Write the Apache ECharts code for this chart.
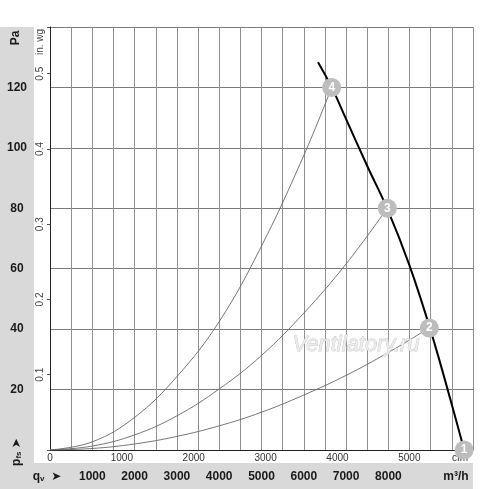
<!DOCTYPE html>
<html>
<head>
<meta charset="utf-8">
<script src="https://cdn.jsdelivr.net/npm/echarts@6/dist/echarts.min.js"></script>
<style>html,body{margin:0;padding:0;background:#fff}#c{width:500px;height:489px}</style>
</head>
<body>
<div id="c"></div>
<script>
// Fan curve (q in m³/h, p in Pa)
const fanCurve = [[6336,128.3],[6660,120],[7000,109.5],[7500,94],[8000,79],[8500,61],[9000,39.5],[9500,15],[9790,0]];
// System curves
const sys4 = [[0,0],[1000,2.7],[2000,10.8],[3000,24.3],[4000,42.5],[5000,67.5],[6000,97.5],[6660,120]];
const sys3 = [[0,0],[1000,1.3],[2000,5],[3000,11.3],[4000,20.2],[5000,31.3],[6000,45.3],[7000,61.6],[7974,80]];
const sys2 = [[0,0],[1000,0.5],[2000,2],[3000,4.5],[4000,8],[5000,12.5],[6000,18.2],[7000,24.7],[8000,32.3],[8967,40.4]];
// Operating points
const pointQ = [9790, 8967, 7974, 6660];
const pointP = [0, 40.4, 80, 120];
const pointLabels = ['1','2','3','4'];
// Axes
const qMax = 10000;       // m³/h
const pMax = 140;         // Pa
const cfmTicks = [0,1000,2000,3000,4000,5000];
const m3hTicks = [1000,2000,3000,4000,5000,6000,7000,8000];
const paTicks = [20,40,60,80,100,120];
const inwgTicks = ['0.1','0.2','0.3','0.4','0.5'];

const cfmMax = qMax / 1.699;
const inwgMax = pMax / 249.089;
const gray = '#d9d9d9';
const FONT = 'Liberation Sans, Arial, sans-serif';

const chart = echarts.init(document.getElementById('c'), null, {renderer:'canvas'});
const lineCommon = {type:'line', xAxisIndex:0, yAxisIndex:0, smooth:0.4, symbol:'none'};
chart.setOption({
  animation: false,
  backgroundColor: '#fff',
  grid: {left: 50, top: 27, width: 423, height: 423, containLabel: false},
  xAxis: [
    {type:'value', min:0, max:qMax, interval:500, position:'bottom', offset:0,
     axisLine:{show:true, lineStyle:{color:'#222', width:1}},
     axisTick:{show:false},
     splitLine:{show:true, lineStyle:{color:'#8f8f8f', width:1}},
     axisLabel:{margin:21, fontFamily:FONT, fontSize:12, fontWeight:'bold', color:'#1a1a1a',
       formatter: v => m3hTicks.indexOf(Math.round(v)) >= 0 ? String(Math.round(v)) : ''}},
    {type:'value', min:0, max:cfmMax, interval:1000, position:'bottom', offset:0,
     axisLine:{show:false}, axisTick:{show:false}, splitLine:{show:false},
     axisLabel:{margin:3, fontFamily:FONT, fontSize:10, color:'#333',
       formatter: v => cfmTicks.indexOf(Math.round(v)) >= 0 ? String(Math.round(v)) : ''}}
  ],
  yAxis: [
    {type:'value', min:0, max:pMax, interval:20, position:'left', offset:0,
     axisLine:{show:true, lineStyle:{color:'#222', width:1}},
     axisTick:{show:false},
     splitLine:{show:true, lineStyle:{color:'#7a7a7a', width:1}},
     axisLabel:{margin:33, align:'center', fontFamily:FONT, fontSize:12, fontWeight:'bold', color:'#1a1a1a',
       formatter: v => paTicks.indexOf(Math.round(v)) >= 0 ? String(Math.round(v)) : ''}},
    {type:'value', min:0, max:inwgMax, interval:0.1, position:'left', offset:0,
     axisLine:{show:false}, splitLine:{show:false},
     axisTick:{show:true, length:3, lineStyle:{color:'#555'}},
     axisLabel:{margin:5, rotate:90, fontFamily:FONT, fontSize:10, color:'#444',
       formatter: v => { const s = (Math.round(v*10)/10).toFixed(1); return inwgTicks.indexOf(s) >= 0 && Math.abs(v - Math.round(v*10)/10) < 1e-6 ? s : ''; }}}
  ],
  graphic: [
    {type:'rect', shape:{x:0, y:27, width:34, height:462}, style:{fill:gray}, silent:true, z:-10},
    {type:'rect', shape:{x:0, y:463, width:473, height:26}, style:{fill:gray}, silent:true, z:-10},
    {type:'text', x:16, y:38, rotation:Math.PI/2, style:{text:'Pa', font:'bold 12px '+FONT, fill:'#1a1a1a', align:'center', verticalAlign:'middle'}},
    {type:'text', x:40, y:42, rotation:Math.PI/2, style:{text:'in. wg', font:'10px '+FONT, fill:'#444', align:'center', verticalAlign:'middle'}},
    {type:'text', x:17, y:452, rotation:Math.PI/2, style:{
      text:'{a|p}{b|fs} {c|➤}', align:'center', verticalAlign:'middle',
      rich:{a:{font:'bold 12px '+FONT, fill:'#1a1a1a'}, b:{font:'bold 8px '+FONT, fill:'#1a1a1a', verticalAlign:'bottom', padding:[4,0,0,0]}, c:{font:'12px DejaVu Sans', fill:'#1a1a1a'}}}},
    {type:'text', x:47, y:477, style:{
      text:'{a|q}{b|v}  {c|➤}', align:'center', verticalAlign:'middle',
      rich:{a:{font:'bold 12px '+FONT, fill:'#1a1a1a'}, b:{font:'bold 8px '+FONT, fill:'#1a1a1a', padding:[4,0,0,0]}, c:{font:'12px DejaVu Sans', fill:'#1a1a1a'}}}},
    {type:'text', x:456, y:477, style:{text:'m³/h', font:'bold 12px '+FONT, fill:'#1a1a1a', align:'center', verticalAlign:'middle'}},
    {type:'text', x:460, y:458, style:{text:'cfm', font:'10px '+FONT, fill:'#333', align:'center', verticalAlign:'middle'}, z:1},
    {type:'text', x:356, y:345, z:50, style:{text:'Ventilatory.ru', font:'italic 22px '+FONT, fill:'#ececec', stroke:'#c6c6c6', lineWidth:0.8, align:'center', verticalAlign:'middle'}}
  ],
  series: [
    Object.assign({}, lineCommon, {data:sys4, lineStyle:{color:'#666', width:0.9}, z:3}),
    Object.assign({}, lineCommon, {data:sys3, lineStyle:{color:'#666', width:0.9}, z:3}),
    Object.assign({}, lineCommon, {data:sys2, lineStyle:{color:'#666', width:0.9}, z:3}),
    Object.assign({}, lineCommon, {data:fanCurve, lineStyle:{color:'#000', width:2}, z:4}),
    {type:'scatter', xAxisIndex:0, yAxisIndex:0, z:10,
     data: pointQ.map((q,i) => ({value:[q, pointP[i]], name:pointLabels[i]})),
     symbol:'circle', symbolSize:19, itemStyle:{color:'#bdbdbd', opacity:1},
     label:{show:true, position:'inside', formatter: p => p.name, color:'#fff', fontFamily:FONT, fontSize:12, fontWeight:'bold'}}
  ]
});
</script>
</body>
</html>
